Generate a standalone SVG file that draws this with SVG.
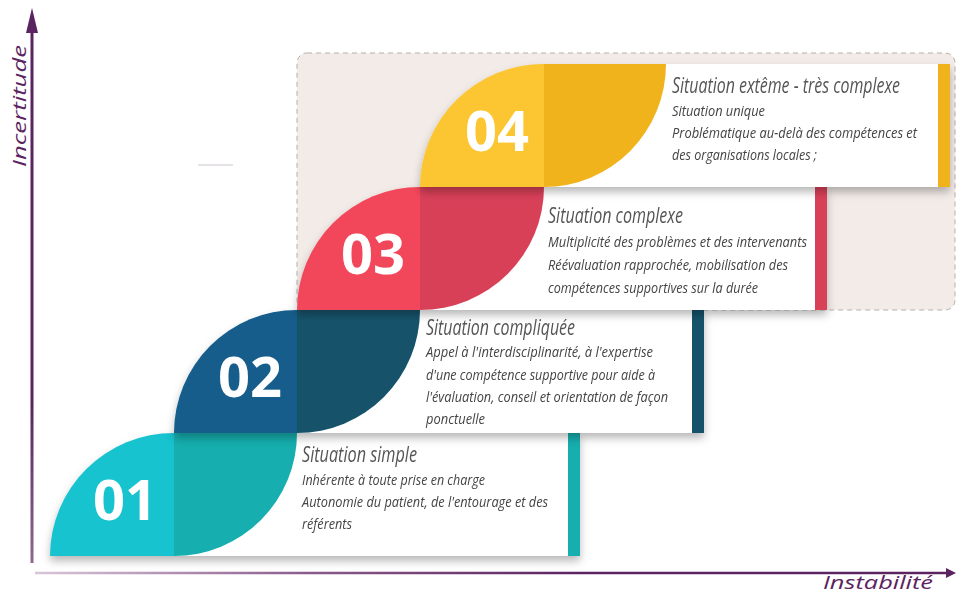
<svg xmlns="http://www.w3.org/2000/svg" width="956" height="596" viewBox="0 0 956 596">
<style>
.title{font-family:"Open Sans","Liberation Sans",sans-serif;font-style:italic;font-size:21px;fill:#555555}
.body{font-family:"Open Sans","Liberation Sans",sans-serif;font-style:italic;font-size:15px;fill:#444444}
.num{font-family:"Open Sans","Liberation Sans",sans-serif;font-weight:bold;font-size:56px;fill:#ffffff;text-anchor:middle}
.axislabel{font-family:"Open Sans","Liberation Sans",sans-serif;font-style:italic;font-size:19px;fill:#5b2360}
.box{fill:#ffffff}
.step{filter:url(#shadow)}
</style>
<defs>
<filter id="shadow" x="-10%" y="-20%" width="120%" height="150%">
<feDropShadow dx="0" dy="5" stdDeviation="4" flood-color="#000000" flood-opacity="0.28"/>
</filter>
<linearGradient id="hgrad" gradientUnits="userSpaceOnUse" x1="35" y1="0" x2="947" y2="0">
<stop offset="0" stop-color="#d9c6d9"/>
<stop offset="0.3" stop-color="#8a5a8c"/>
<stop offset="0.6" stop-color="#5b2360"/>
<stop offset="1" stop-color="#5b2360"/>
</linearGradient>
<linearGradient id="vgrad" gradientUnits="userSpaceOnUse" x1="0" y1="30" x2="0" y2="563">
<stop offset="0" stop-color="#5b2360"/>
<stop offset="0.7" stop-color="#5b2360"/>
<stop offset="1" stop-color="#8a6a8c"/>
</linearGradient>
</defs>

<rect id="panel" x="297" y="53" width="658" height="257" rx="10" fill="#f2ebe7" stroke="#b5b0ae" stroke-width="1" stroke-dasharray="5 4"/>
<line x1="198" y1="165" x2="233" y2="165" stroke="#cfc6cf" stroke-width="1.2"/>

<g id="axes">
<line x1="32" y1="563" x2="32" y2="30" stroke="url(#vgrad)" stroke-width="3"/>
<polygon points="32,8 38,33 26,33" fill="#5b2360"/>
<line x1="35" y1="573" x2="947" y2="573" stroke="url(#hgrad)" stroke-width="2.5"/>
<polygon points="956,573 946,568 946,578" fill="#5b2360"/>
<text class="axislabel" transform="translate(26,167) rotate(-90)" textLength="122" lengthAdjust="spacingAndGlyphs">Incertitude</text>
<text class="axislabel" x="823" y="589" font-size="17" textLength="110" lengthAdjust="spacingAndGlyphs">Instabilité</text>
</g>

<g id="step-01" class="step">
<rect class="box" x="174" y="433" width="406" height="123"/>
<rect x="568" y="433" width="12" height="123" fill="#14aeae"/>
<path d="M50,556 A124,123 0 0 1 174,433 L174,556 Z" fill="#19c3cf"/>
<path d="M174,433 L297,433 A123,123 0 0 1 174,556 Z" fill="#14aeae"/>
<text class="num" x="125" y="520">01</text>
<text class="title" x="302" y="462" textLength="115" lengthAdjust="spacingAndGlyphs">Situation simple</text>
<text class="body" x="302" y="485" textLength="183" lengthAdjust="spacingAndGlyphs">Inhérente à toute prise en charge</text>
<text class="body" x="302" y="507" textLength="246" lengthAdjust="spacingAndGlyphs">Autonomie du patient, de l'entourage et des</text>
<text class="body" x="302" y="529" textLength="50" lengthAdjust="spacingAndGlyphs">référents</text>
</g>

<g id="step-02" class="step">
<rect class="box" x="297" y="310" width="407" height="123"/>
<rect x="692" y="310" width="12" height="123" fill="#12526a"/>
<path d="M174,433 A123,123 0 0 1 297,310 L297,433 Z" fill="#135d8b"/>
<path d="M297,310 L420,310 A123,123 0 0 1 297,433 Z" fill="#12526a"/>
<text class="num" x="250" y="397">02</text>
<text class="title" x="426" y="335" textLength="149" lengthAdjust="spacingAndGlyphs">Situation compliquée</text>
<text class="body" x="426" y="357" textLength="227" lengthAdjust="spacingAndGlyphs">Appel à l'interdisciplinarité, à l'expertise</text>
<text class="body" x="426" y="380" textLength="229" lengthAdjust="spacingAndGlyphs">d'une compétence supportive pour aide à</text>
<text class="body" x="426" y="402" textLength="242" lengthAdjust="spacingAndGlyphs">l'évaluation, conseil et orientation de façon</text>
<text class="body" x="426" y="424" textLength="59" lengthAdjust="spacingAndGlyphs">ponctuelle</text>
</g>

<g id="step-03" class="step">
<rect class="box" x="420" y="187" width="407" height="123"/>
<rect x="815" y="187" width="12" height="123" fill="#d84158"/>
<path d="M297,310 A123,123 0 0 1 420,187 L420,310 Z" fill="#f2475a"/>
<path d="M420,187 L544,187 A124,123 0 0 1 420,310 Z" fill="#d84158"/>
<text class="num" x="373" y="274">03</text>
<text class="title" x="548" y="223" textLength="135" lengthAdjust="spacingAndGlyphs">Situation complexe</text>
<text class="body" x="548" y="247" textLength="259" lengthAdjust="spacingAndGlyphs">Multiplicité des problèmes et des intervenants</text>
<text class="body" x="548" y="270" textLength="240" lengthAdjust="spacingAndGlyphs">Réévaluation rapprochée, mobilisation des</text>
<text class="body" x="548" y="293" textLength="210" lengthAdjust="spacingAndGlyphs">compétences supportives sur la durée</text>
</g>

<g id="step-04" class="step">
<rect class="box" x="544" y="64" width="406" height="123"/>
<rect x="938" y="64" width="12" height="123" fill="#f0b31a"/>
<path d="M420,187 A124,123 0 0 1 544,64 L544,187 Z" fill="#fcc630"/>
<path d="M544,64 L666,64 A122,123 0 0 1 544,187 Z" fill="#f0b31a"/>
<text class="num" x="497" y="151">04</text>
<text class="title" transform="translate(672,93) scale(0.75,1)" x="0" y="0" textLength="304" lengthAdjust="spacingAndGlyphs">Situation extême - très complexe</text>
<text class="body" x="672" y="116" textLength="93" lengthAdjust="spacingAndGlyphs">Situation unique</text>
<text class="body" x="672" y="138" textLength="245" lengthAdjust="spacingAndGlyphs">Problématique au-delà des compétences  et</text>
<text class="body" x="672" y="160" textLength="145" lengthAdjust="spacingAndGlyphs">des organisations locales ;</text>
</g>
</svg>
